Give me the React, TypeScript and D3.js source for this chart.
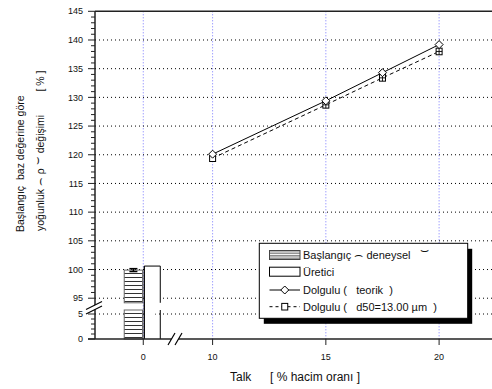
import React from 'react';
import * as d3 from 'd3';

// ---- data ----
const xTickValues = [0, 10, 15, 20];
const yTicksLower = [0, 5];
const yTicksUpper = [95, 100, 105, 110, 115, 120, 125, 130, 135, 140, 145];
const yGridValues = [5, 95, 100, 105, 110, 115, 120, 125, 130, 135, 140];
const talk = [10, 15, 17.5, 20];
const teorik = [120.1, 129.4, 134.3, 139.2];
const d50 = [119.4, 128.7, 133.4, 138.0];
const d50Err = [0, 0.4, 0.4, 0.4];
const barNames = ['Başlangıç', 'Üretici'];
const barValues = [99.9, 100.6];
const barErr = [0.25, 0];
const legendLabels = ['Başlangıç ⌢ deneysel ⌣', 'Üretici', 'Dolgulu (   teorik  )', 'Dolgulu (   d50=13.00 µm  )'];

const FONT = "'Liberation Sans', Arial, sans-serif";

export default function App() {
  const W = 492, H = 389;
  // broken axes -> piecewise linear scales
  const x = d3.scaleLinear().domain([-2.13, 1.4, 8.34, 22.6]).range([95, 175, 175, 498]);
  const y = d3.scaleLinear().domain([0, 5.8, 94.2, 145]).range([339, 310, 302.8, 11.3]);
  const lowTop = 5.8, upBot = 94.2;

  const minorUpper = d3.range(95, 146, 1);
  const minorLower = d3.range(0, 6, 1);

  const diamondPath = (cx: number, cy: number, r: number) =>
    `M${cx},${cy - r}L${cx + r},${cy}L${cx},${cy + r}L${cx - r},${cy}Z`;

  const lineGen = d3.line<number>().x((_, i) => x(talk[i])).y((d) => y(d));

  // bars: offsets in x-units around 0
  const barX0 = [-0.84, 0.045];
  const barX1 = [-0.03, 0.75];

  const lg = { x: 259.3, y: 243.3, w: 208.4, h: 75 };
  const rowY = [255, 271.7, 290, 306.7];
  const symX0 = 269.5, symX1 = 300, txtX = 303;

  return (
    <svg width={W} height={H} style={{ position: 'absolute', left: 0, top: 0, background: '#fff' }} fontFamily={FONT}>
      <defs>
        <pattern id="hatch" width="4" height="4" patternUnits="userSpaceOnUse">
          <rect width="4" height="4" fill="#fff" />
          <line x1="0" y1="1.5" x2="4" y2="1.5" stroke="#333" strokeWidth="1" />
        </pattern>
        <pattern id="hatchL" width="4" height="2.5" patternUnits="userSpaceOnUse">
          <rect width="4" height="2.5" fill="#fff" />
          <line x1="0" y1="0.8" x2="4" y2="0.8" stroke="#333" strokeWidth="0.9" />
        </pattern>
      </defs>
      <rect width={W} height={H} fill="#fff" />

      {/* vertical blue grid */}
      {xTickValues.map((v) => (
        <line key={'vg' + v} x1={x(v)} x2={x(v)} y1={y(145)} y2={y(0)} stroke="#7777ff" strokeWidth={1} strokeDasharray="1,2" />
      ))}
      {/* horizontal grid */}
      {yGridValues.map((v) => (
        <line key={'hg' + v} x1={95} x2={W} y1={y(v)} y2={y(v)} stroke="#000" strokeWidth={1} strokeDasharray="1,3" />
      ))}

      {/* bars */}
      {barValues.map((v, i) => {
        const x0 = x(barX0[i]), x1 = x(barX1[i]);
        if (i === 0) {
          return (
            <g key={'bar' + i}>
              <rect x={x0} y={y(lowTop)} width={x1 - x0} height={y(0) - y(lowTop)} fill="url(#hatch)" stroke="#666" strokeWidth={1} />
              <rect x={x0} y={y(v)} width={x1 - x0} height={y(upBot) - y(v)} fill="url(#hatch)" stroke="#666" strokeWidth={1} />
              {barErr[i] > 0 && (
                <g stroke="#000" strokeWidth={1.5}>
                  <line x1={(x0 + x1) / 2 - 4} x2={(x0 + x1) / 2 + 4} y1={y(v + barErr[i])} y2={y(v + barErr[i])} />
                  <line x1={(x0 + x1) / 2 - 4} x2={(x0 + x1) / 2 + 4} y1={y(v - barErr[i])} y2={y(v - barErr[i])} />
                  <line x1={(x0 + x1) / 2} x2={(x0 + x1) / 2} y1={y(v + barErr[i])} y2={y(v - barErr[i])} />
                </g>
              )}
            </g>
          );
        }
        return (
          <g key={'bar' + i} fill="none" stroke="#000" strokeWidth={1}>
            <path d={`M${x0},${y(0)}V${y(v)}H${x1}V${y(upBot)}`} fill="#fff" />
            <path d={`M${x1},${y(lowTop)}V${y(0)}`} />
            <line x1={x0} x2={x0} y1={y(v)} y2={y(0)} />
          </g>
        );
      })}

      {/* series lines */}
      <path d={lineGen(teorik) || ''} fill="none" stroke="#000" strokeWidth={1} />
      <path d={lineGen(d50) || ''} fill="none" stroke="#000" strokeWidth={1} strokeDasharray="4,3" />
      {d50.map((v, i) => (
        <g key={'sq' + i}>
          <rect x={x(talk[i]) - 3} y={y(v) - 3.3} width={6} height={6.6} fill="#fff" stroke="#000" strokeWidth={1} />
          {d50Err[i] > 0 && (
            <g stroke="#000" strokeWidth={0.9}>
              <line x1={x(talk[i])} x2={x(talk[i])} y1={y(v) - 3.3} y2={y(v) + 3.3} />
              <line x1={x(talk[i]) - 3} x2={x(talk[i]) + 3} y1={y(v)} y2={y(v)} />
            </g>
          )}
        </g>
      ))}
      {teorik.map((v, i) => (
        <path key={'dm' + i} d={diamondPath(x(talk[i]), y(v), 4)} fill="#fff" stroke="#000" strokeWidth={1} />
      ))}

      {/* frame: top and axes */}
      <line x1={95} x2={W} y1={y(145)} y2={y(145)} stroke="#222" strokeWidth={1.5} />
      <line x1={95} x2={95} y1={y(145)} y2={y(0)} stroke="#222" strokeWidth={1.5} />
      <line x1={88} x2={W} y1={y(0)} y2={y(0)} stroke="#222" strokeWidth={1.5} />

      {/* y ticks */}
      {minorUpper.map((v) => (
        <line key={'mu' + v} x1={v % 5 === 0 ? 88 : 91} x2={95} y1={y(v)} y2={y(v)} stroke="#222" strokeWidth={1} />
      ))}
      {minorLower.map((v) => (
        <line key={'ml' + v} x1={v % 5 === 0 ? 88 : 91} x2={95} y1={y(v)} y2={y(v)} stroke="#222" strokeWidth={1} />
      ))}
      {[...yTicksLower, ...yTicksUpper].map((v) => (
        <text key={'yl' + v} x={83} y={y(v)} dy="0.35em" textAnchor="end" fontSize={9} fill="#111">{v}</text>
      ))}

      {/* x ticks */}
      {xTickValues.map((v) => (
        <g key={'xt' + v}>
          <line x1={x(v)} x2={x(v)} y1={y(0)} y2={y(0) + 6} stroke="#222" strokeWidth={1} />
          <text x={x(v)} y={357} dy="0.35em" textAnchor="middle" fontSize={9} fill="#111">{v}</text>
        </g>
      ))}

      {/* y axis break */}
      <polygon points="86,309.5 102,301.5 102,306 86,314" fill="#fff" />
      <line x1={86} y1={309.5} x2={102} y2={301.5} stroke="#000" strokeWidth={1.2} />
      <line x1={86} y1={314} x2={102} y2={306} stroke="#000" strokeWidth={1.2} />

      {/* x axis break */}
      <polygon points="168,345 175,333 182,333 175,345" fill="#fff" />
      <line x1={168} y1={345} x2={175} y2={333} stroke="#000" strokeWidth={1.2} />
      <line x1={175} y1={345} x2={182} y2={333} stroke="#000" strokeWidth={1.2} />

      {/* legend */}
      <rect x={lg.x + 4.5} y={lg.y + 5.5} width={lg.w} height={lg.h} fill="#000" />
      <rect x={lg.x} y={lg.y} width={lg.w} height={lg.h} fill="#fff" stroke="#000" strokeWidth={1} />
      <rect x={symX0} y={rowY[0] - 4.5} width={symX1 - symX0} height={9} fill="url(#hatchL)" stroke="#444" strokeWidth={1} />
      <rect x={symX0} y={rowY[1] - 4.5} width={symX1 - symX0} height={9} fill="#fff" stroke="#000" strokeWidth={1} />
      <line x1={symX0} x2={symX1} y1={rowY[2]} y2={rowY[2]} stroke="#000" strokeWidth={1} />
      <path d={diamondPath((symX0 + symX1) / 2, rowY[2], 4)} fill="#fff" stroke="#000" strokeWidth={1} />
      <line x1={symX0} x2={symX1} y1={rowY[3]} y2={rowY[3]} stroke="#000" strokeWidth={1} strokeDasharray="3,3" />
      <rect x={(symX0 + symX1) / 2 - 3} y={rowY[3] - 3.3} width={6} height={6.6} fill="#fff" stroke="#000" strokeWidth={1} />
      {legendLabels.map((t, i) => (
        <text key={'lt' + i} x={txtX} y={rowY[i]} dy="0.35em" fontSize={11} fill="#111" style={{ whiteSpace: 'pre' }}>
          {i === 0 ? (
            <>
              <tspan>Başlangıç </tspan>
              <tspan fontFamily="'DejaVu Sans'" fontSize={14}>⌢</tspan>
              <tspan> deneysel   </tspan>
              <tspan fontFamily="'DejaVu Sans'" fontSize={14} dy="-4">⌣</tspan>
            </>
          ) : t}
        </text>
      ))}

      {/* axis titles */}
      <text x={230} y={381} fontSize={12} fill="#111">Talk</text>
      <text x={270} y={381} fontSize={12} fill="#111">[ % hacim oranı ]</text>
      <text transform="translate(24,232) rotate(-90)" fontSize={10.5} fill="#111" style={{ whiteSpace: 'pre' }}>Başlangıç  baz değerine göre</text>
      <text transform="translate(44,231) rotate(-90)" fontSize={10.5} fill="#111" style={{ whiteSpace: 'pre' }}>
        <tspan>yoğunluk </tspan>
        <tspan fontFamily="'DejaVu Sans'" fontSize={13}>⌢</tspan>
        <tspan> ρ </tspan>
        <tspan fontFamily="'DejaVu Sans'" fontSize={13} dy="-3">⌣</tspan>
        <tspan dy="3"> değişimi        [ % ]</tspan>
      </text>
    </svg>
  );
}
